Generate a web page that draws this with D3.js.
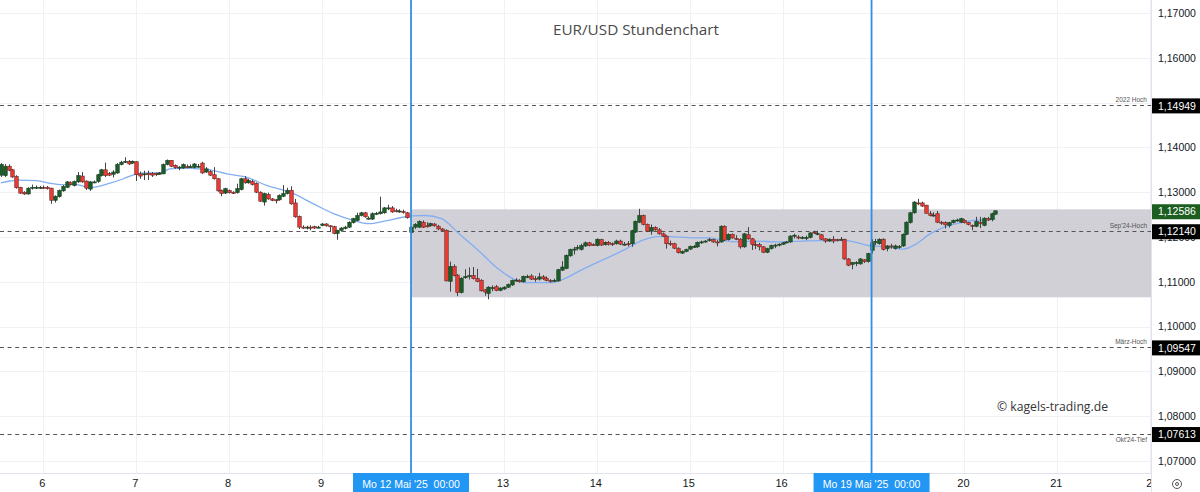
<!DOCTYPE html>
<html>
<head>
<meta charset="utf-8">
<script src="https://cdn.jsdelivr.net/npm/d3@7"></script>
<style>
  html, body { margin: 0; padding: 0; background: #fff; overflow: hidden; }
  text { font-family: "Liberation Sans", Arial, sans-serif; }
</style>
</head>
<body>
<div id="vis"></div>
<script>
// hourly candles EUR/USD
const opens = [
  1.1338,1.1337,1.1358,1.1350,1.1335,1.1311,1.1300,1.1296,1.1309,1.1310,
  1.1310,1.1311,1.1311,1.1309,1.1282,1.1290,1.1303,1.1311,1.1321,1.1315,
  1.1323,1.1336,1.1325,1.1307,1.1322,1.1324,1.1337,1.1350,1.1342,1.1340,
  1.1343,1.1362,1.1368,1.1369,1.1365,1.1368,1.1341,1.1340,1.1342,1.1342,
  1.1342,1.1340,1.1341,1.1362,1.1371,1.1360,1.1356,1.1354,1.1357,1.1356,
  1.1355,1.1357,1.1365,1.1345,1.1346,1.1339,1.1330,1.1304,1.1298,1.1304,
  1.1300,1.1299,1.1306,1.1330,1.1321,1.1324,1.1320,1.1300,1.1278,1.1295,
  1.1285,1.1283,1.1283,1.1291,1.1297,1.1304,1.1276,1.1246,1.1222,1.1221,
  1.1222,1.1223,1.1222,1.1226,1.1229,1.1225,1.1223,1.1208,1.1215,1.1219,
  1.1222,1.1232,1.1237,1.1248,1.1254,1.1241,1.1240,1.1252,1.1252,1.1254,
  1.1265,1.1265,1.1259,1.1258,1.1257,1.1254,1.1210,1.1222,1.1222,1.1233,
  1.1225,1.1225,1.1229,1.1224,1.1218,1.1215,1.1101,1.1134,1.1115,1.1076,
  1.1109,1.1112,1.1114,1.1107,1.1103,1.1082,1.1074,1.1087,1.1089,1.1081,
  1.1084,1.1088,1.1093,1.1103,1.1103,1.1100,1.1112,1.1113,1.1107,1.1106,
  1.1111,1.1108,1.1103,1.1103,1.1102,1.1126,1.1130,1.1158,1.1172,1.1176,
  1.1172,1.1180,1.1187,1.1183,1.1181,1.1194,1.1183,1.1188,1.1185,1.1185,
  1.1191,1.1184,1.1185,1.1185,1.1211,1.1233,1.1248,1.1228,1.1213,1.1221,
  1.1216,1.1207,1.1202,1.1186,1.1185,1.1175,1.1164,1.1168,1.1173,1.1178,
  1.1178,1.1188,1.1190,1.1193,1.1194,1.1189,1.1189,1.1224,1.1194,1.1206,
  1.1197,1.1195,1.1178,1.1205,1.1196,1.1183,1.1183,1.1178,1.1166,1.1174,
  1.1181,1.1183,1.1184,1.1188,1.1189,1.1203,1.1200,1.1199,1.1199,1.1199,
  1.1211,1.1208,1.1205,1.1196,1.1191,1.1195,1.1194,1.1195,1.1195,1.1151,
  1.1139,1.1143,1.1140,1.1149,1.1145,1.1170,1.1189,1.1185,1.1195,1.1174,
  1.1180,1.1174,1.1178,1.1180,1.1206,1.1232,1.1254,1.1276,1.1276,1.1271,
  1.1252,1.1249,1.1252,1.1233,1.1232,1.1226,1.1232,1.1237,1.1233,1.1237,
  1.1232,1.1226,1.1224,1.1233,1.1226,1.1241,1.1239,1.1251
];
const highs = [
  1.1365,1.1363,1.1362,1.1352,1.1338,1.1312,1.1302,1.1311,1.1317,1.1315,
  1.1314,1.1315,1.1314,1.1310,1.1293,1.1306,1.1316,1.1325,1.1324,1.1326,
  1.1345,1.1345,1.1326,1.1325,1.1326,1.1341,1.1352,1.1366,1.1345,1.1349,
  1.1365,1.1370,1.1378,1.1372,1.1371,1.1369,1.1346,1.1348,1.1348,1.1345,
  1.1344,1.1345,1.1364,1.1373,1.1372,1.1362,1.1358,1.1364,1.1362,1.1362,
  1.1365,1.1363,1.1368,1.1356,1.1350,1.1356,1.1332,1.1306,1.1310,1.1306,
  1.1302,1.1319,1.1332,1.1336,1.1330,1.1328,1.1322,1.1302,1.1299,1.1299,
  1.1287,1.1285,1.1295,1.1316,1.1310,1.1313,1.1285,1.1248,1.1226,1.1225,
  1.1226,1.1225,1.1225,1.1231,1.1231,1.1226,1.1225,1.1216,1.1222,1.1225,
  1.1235,1.1243,1.1254,1.1256,1.1256,1.1246,1.1255,1.1256,1.1290,1.1267,
  1.1272,1.1269,1.1263,1.1262,1.1261,1.1256,1.1225,1.1231,1.1237,1.1237,
  1.1233,1.1232,1.1231,1.1227,1.1220,1.1217,1.1145,1.1139,1.1117,1.1110,
  1.1128,1.1132,1.1133,1.1129,1.1106,1.1084,1.1090,1.1092,1.1093,1.1088,
  1.1090,1.1096,1.1105,1.1108,1.1106,1.1114,1.1116,1.1117,1.1113,1.1120,
  1.1115,1.1112,1.1106,1.1107,1.1129,1.1146,1.1161,1.1174,1.1178,1.1182,
  1.1185,1.1190,1.1189,1.1186,1.1197,1.1196,1.1190,1.1191,1.1188,1.1194,
  1.1194,1.1189,1.1191,1.1216,1.1237,1.1263,1.1250,1.1230,1.1228,1.1224,
  1.1220,1.1210,1.1204,1.1192,1.1187,1.1177,1.1170,1.1174,1.1181,1.1182,
  1.1190,1.1192,1.1193,1.1198,1.1196,1.1193,1.1226,1.1226,1.1208,1.1208,
  1.1204,1.1197,1.1209,1.1222,1.1198,1.1192,1.1187,1.1180,1.1176,1.1183,
  1.1185,1.1186,1.1189,1.1191,1.1204,1.1207,1.1204,1.1202,1.1203,1.1211,
  1.1214,1.1214,1.1207,1.1197,1.1197,1.1202,1.1196,1.1200,1.1196,1.1153,
  1.1144,1.1146,1.1153,1.1151,1.1165,1.1195,1.1196,1.1197,1.1197,1.1182,
  1.1185,1.1183,1.1182,1.1208,1.1235,1.1256,1.1280,1.1285,1.1279,1.1272,
  1.1258,1.1255,1.1258,1.1236,1.1235,1.1234,1.1239,1.1241,1.1243,1.1240,
  1.1234,1.1228,1.1245,1.1245,1.1244,1.1245,1.1254,1.1258
];
const lows = [
  1.1334,1.1334,1.1347,1.1332,1.1308,1.1296,1.1294,1.1295,1.1306,1.1307,
  1.1307,1.1307,1.1306,1.1274,1.1277,1.1288,1.1301,1.1309,1.1315,1.1313,
  1.1321,1.1321,1.1305,1.1303,1.1320,1.1321,1.1335,1.1334,1.1336,1.1333,
  1.1341,1.1360,1.1365,1.1361,1.1363,1.1325,1.1330,1.1327,1.1327,1.1334,
  1.1336,1.1339,1.1340,1.1360,1.1356,1.1352,1.1349,1.1352,1.1353,1.1354,
  1.1353,1.1355,1.1341,1.1343,1.1336,1.1328,1.1301,1.1291,1.1296,1.1297,
  1.1296,1.1297,1.1304,1.1319,1.1319,1.1315,1.1298,1.1278,1.1270,1.1283,
  1.1280,1.1275,1.1281,1.1289,1.1295,1.1272,1.1243,1.1218,1.1218,1.1217,
  1.1215,1.1218,1.1219,1.1224,1.1223,1.1211,1.1206,1.1194,1.1212,1.1217,
  1.1220,1.1230,1.1235,1.1246,1.1243,1.1239,1.1238,1.1249,1.1250,1.1252,
  1.1260,1.1254,1.1255,1.1254,1.1252,1.1241,1.1207,1.1218,1.1220,1.1220,
  1.1221,1.1223,1.1223,1.1215,1.1213,1.1101,1.1078,1.1112,1.1068,1.1074,
  1.1107,1.1105,1.1105,1.1099,1.1078,1.1069,1.1061,1.1079,1.1079,1.1079,
  1.1082,1.1086,1.1091,1.1100,1.1098,1.1098,1.1108,1.1104,1.1100,1.1103,
  1.1104,1.1101,1.1098,1.1100,1.1100,1.1124,1.1128,1.1156,1.1161,1.1170,
  1.1170,1.1178,1.1179,1.1180,1.1179,1.1180,1.1181,1.1181,1.1180,1.1183,
  1.1182,1.1181,1.1179,1.1178,1.1209,1.1231,1.1226,1.1211,1.1205,1.1214,
  1.1205,1.1200,1.1174,1.1180,1.1173,1.1163,1.1162,1.1166,1.1171,1.1176,
  1.1176,1.1185,1.1187,1.1190,1.1187,1.1179,1.1187,1.1191,1.1192,1.1196,
  1.1193,1.1174,1.1176,1.1194,1.1171,1.1173,1.1170,1.1164,1.1164,1.1172,
  1.1175,1.1179,1.1182,1.1186,1.1187,1.1197,1.1195,1.1195,1.1193,1.1197,
  1.1207,1.1204,1.1193,1.1187,1.1189,1.1186,1.1190,1.1192,1.1149,1.1135,
  1.1128,1.1135,1.1138,1.1142,1.1143,1.1163,1.1182,1.1183,1.1170,1.1168,
  1.1174,1.1172,1.1174,1.1178,1.1204,1.1230,1.1252,1.1271,1.1267,1.1252,
  1.1246,1.1245,1.1231,1.1227,1.1219,1.1221,1.1230,1.1234,1.1231,1.1230,
  1.1226,1.1215,1.1222,1.1220,1.1224,1.1236,1.1235,1.1249
];
const closes = [
  1.1362,1.1358,1.1349,1.1334,1.1310,1.1298,1.1296,1.1309,1.1311,1.1311,
  1.1311,1.1310,1.1308,1.1282,1.1291,1.1304,1.1313,1.1323,1.1317,1.1324,
  1.1337,1.1323,1.1309,1.1323,1.1323,1.1339,1.1350,1.1337,1.1338,1.1345,
  1.1362,1.1367,1.1369,1.1363,1.1369,1.1339,1.1336,1.1341,1.1339,1.1338,
  1.1339,1.1343,1.1362,1.1371,1.1358,1.1355,1.1356,1.1362,1.1356,1.1357,
  1.1363,1.1358,1.1343,1.1352,1.1338,1.1330,1.1303,1.1297,1.1308,1.1299,
  1.1297,1.1308,1.1330,1.1321,1.1326,1.1317,1.1300,1.1280,1.1297,1.1285,
  1.1282,1.1281,1.1293,1.1297,1.1304,1.1274,1.1245,1.1222,1.1221,1.1222,
  1.1221,1.1220,1.1222,1.1229,1.1225,1.1224,1.1208,1.1215,1.1220,1.1222,
  1.1233,1.1241,1.1248,1.1254,1.1245,1.1242,1.1252,1.1253,1.1256,1.1265,
  1.1265,1.1256,1.1258,1.1258,1.1256,1.1243,1.1222,1.1228,1.1235,1.1222,
  1.1224,1.1230,1.1225,1.1218,1.1215,1.1102,1.1134,1.1114,1.1076,1.1108,
  1.1112,1.1114,1.1107,1.1101,1.1080,1.1077,1.1088,1.1087,1.1081,1.1086,
  1.1088,1.1094,1.1103,1.1104,1.1100,1.1112,1.1112,1.1106,1.1106,1.1111,
  1.1107,1.1103,1.1102,1.1103,1.1127,1.1133,1.1159,1.1172,1.1173,1.1177,
  1.1181,1.1187,1.1181,1.1182,1.1195,1.1182,1.1188,1.1184,1.1184,1.1191,
  1.1184,1.1184,1.1183,1.1214,1.1235,1.1248,1.1228,1.1213,1.1221,1.1216,
  1.1207,1.1202,1.1185,1.1185,1.1175,1.1165,1.1168,1.1172,1.1179,1.1179,
  1.1188,1.1189,1.1191,1.1194,1.1189,1.1188,1.1224,1.1193,1.1206,1.1198,
  1.1196,1.1178,1.1207,1.1196,1.1183,1.1182,1.1178,1.1166,1.1174,1.1181,
  1.1182,1.1184,1.1187,1.1189,1.1202,1.1204,1.1199,1.1199,1.1199,1.1209,
  1.1209,1.1208,1.1195,1.1191,1.1195,1.1191,1.1193,1.1195,1.1151,1.1137,
  1.1143,1.1143,1.1151,1.1145,1.1163,1.1187,1.1190,1.1195,1.1172,1.1180,
  1.1179,1.1180,1.1179,1.1206,1.1233,1.1254,1.1278,1.1275,1.1269,1.1253,
  1.1248,1.1249,1.1233,1.1232,1.1227,1.1232,1.1237,1.1238,1.1241,1.1232,
  1.1228,1.1225,1.1235,1.1230,1.1242,1.1238,1.1252,1.12586
];

// moving average, sampled where it could be read
const maIndex = [0,2.4,4.5,9.3,12.7,16,19.6,23,28.2,31.7,34.7,37.7,41.1,43.7,48,51.5,53.2,58.4,64,68.7,74.8,80.8,86,91.1,95,98.9,103.2,106.1,109.6,113.9,118.2,123.4,128.5,132.8,136.3,142.3,145.7,149.7,161.7,165.6,169.9,172.9,179,183.3,186.7,191,194.4,201.3,207.3,211.6,218.5,224.1,228.9,233.2,236.6,240.1,243.5,247,251.3,255.6,257];
const maPrice = [1.1321,1.1325,1.1327,1.1326,1.1320,1.1317,1.1317,1.1310,1.1320,1.1330,1.1340,1.1343,1.1343,1.1352,1.1354,1.1352,1.1351,1.1341,1.1332,1.1315,1.1300,1.1274,1.1252,1.1237,1.1230,1.1235,1.1243,1.1247,1.1248,1.1241,1.1209,1.1170,1.1129,1.1105,1.1098,1.1098,1.1107,1.1125,1.1174,1.1192,1.1201,1.1201,1.1198,1.1198,1.1192,1.1189,1.1191,1.1189,1.1191,1.1192,1.1192,1.1181,1.1178,1.1173,1.1185,1.1207,1.1221,1.1230,1.1237,1.1239,1.1241];

const priceTicks = [1.07,1.08,1.09,1.10,1.11,1.12,1.13,1.14,1.15,1.16,1.17];
const priceLabels = [1.07,1.08,1.09,1.10,1.11,1.12,1.13,1.14,1.16,1.17]; // 1,15000 sits hidden behind the 2022 box
const dayTickIndex = [11,35,59,83,130,154,178,202,249,273,297];
const dayTickLabels = ['6','7','8','9','13','14','15','16','20','21','2'];

const levelValues = [1.14949,1.1214,1.09547,1.07613];
const levelNames = ['2022 Hoch',"Sep'24-Hoch",'März-Hoch',"Okt'24-Tief"];
const zoneTop = 1.12618, zoneBottom = 1.10654;

const weekStartIndex = [106,225];
const weekStartLabels = ["Mo 12 Mai '25  00:00","Mo 19 Mai '25  00:00"];

const width = 1200, height = 492;
const plotRight = 1151, plotBottom = 473;

const svg = d3.select('#vis').append('svg')
  .attr('width', width)
  .attr('height', height)
  .style('display', 'block');

// define scales
const xScale = d3.scaleLinear().domain([0,297]).range([0.8,1150.2]);
const yScale = d3.scaleLinear().domain([1.07,1.17]).range([461,13]);

svg.append('clipPath').attr('id','plot').append('rect')
  .attr('width', plotRight).attr('height', plotBottom);
svg.append('clipPath').attr('id','timeAxis').append('rect')
  .attr('width', plotRight).attr('height', height);

const plot = svg.append('g').attr('clip-path','url(#plot)');

// grid
plot.selectAll('line.hgrid').data(priceTicks).enter().append('line')
  .attr('class','hgrid')
  .attr('x1',0).attr('x2',plotRight)
  .attr('y1',d => Math.round(yScale(d))+.5).attr('y2',d => Math.round(yScale(d))+.5)
  .attr('stroke','#eff1f5');
plot.selectAll('line.vgrid').data(dayTickIndex).enter().append('line')
  .attr('class','vgrid')
  .attr('y1',0).attr('y2',plotBottom)
  .attr('x1',d => Math.round(xScale(d))+.5).attr('x2',d => Math.round(xScale(d))+.5)
  .attr('stroke','#eff1f5');

// grey range box
plot.append('rect')
  .attr('x',xScale(weekStartIndex[0]))
  .attr('y',yScale(zoneTop))
  .attr('width',plotRight-xScale(weekStartIndex[0]))
  .attr('height',yScale(zoneBottom)-yScale(zoneTop))
  .attr('fill','#d1d0d6');

// dashed levels
plot.selectAll('line.level').data(levelValues).enter().append('line')
  .attr('class','level')
  .attr('x1',0).attr('x2',plotRight)
  .attr('y1',d => Math.round(yScale(d))+.5).attr('y2',d => Math.round(yScale(d))+.5)
  .attr('stroke','#555')
  .attr('stroke-dasharray','4 3.6');

// moving average
const maLine = d3.line()
  .x((d,i) => xScale(maIndex[i]))
  .y(d => yScale(d))
  .curve(d3.curveMonotoneX);

plot.append('path')
  .attr('d',maLine(maPrice))
  .attr('fill','none')
  .attr('stroke','#82aef2')
  .attr('stroke-width',1.3);

// candles
const candles = plot.selectAll('g.candle').data(closes).enter().append('g').attr('class','candle');

candles.append('line')
  .attr('x1',(d,i) => Math.round(xScale(i))+.5)
  .attr('x2',(d,i) => Math.round(xScale(i))+.5)
  .attr('y1',(d,i) => yScale(highs[i]))
  .attr('y2',(d,i) => yScale(lows[i]))
  .attr('stroke','#444');

candles.append('rect')
  .attr('x',(d,i) => Math.round(xScale(i))-1.25)
  .attr('width',3.5)
  .attr('y',(d,i) => yScale(Math.max(opens[i],d)))
  .attr('height',(d,i) => Math.max(1,Math.abs(yScale(opens[i])-yScale(d))))
  .attr('fill',(d,i) => d >= opens[i] ? '#1b5e2a' : '#ee3a32')
  .attr('stroke',(d,i) => d >= opens[i] ? '#1d3d22' : '#5a2a28')
  .attr('stroke-width',.6);

// week start lines
plot.selectAll('line.week').data(weekStartIndex).enter().append('line')
  .attr('class','week')
  .attr('x1',d => xScale(d)).attr('x2',d => xScale(d))
  .attr('y1',0).attr('y2',plotBottom)
  .attr('stroke','#2f8fe6')
  .attr('stroke-width',1.8);

// texts in the plot
plot.selectAll('text.levelName').data(levelValues).enter().append('text')
  .attr('class','levelName')
  .attr('x',plotRight-4)
  .attr('y',(d,i) => yScale(d) + (i == 3 ? 8 : -2.5))
  .attr('text-anchor','end')
  .attr('font-size',6.5)
  .attr('fill','#555')
  .text((d,i) => levelNames[i]);

svg.append('text')
  .attr('x',636).attr('y',35)
  .attr('text-anchor','middle')
  .style('font-family','"Open Sans"')
  .attr('font-size',15.3)
  .attr('fill','#4a4a4a')
  .text('EUR/USD Stundenchart');

svg.append('text')
  .attr('x',997).attr('y',411)
  .style('font-family','"Open Sans"')
  .attr('font-size',12.2)
  .attr('fill','#333')
  .text('© kagels-trading.de');

// axes
const xAxis = d3.axisBottom(xScale)
  .tickValues(dayTickIndex)
  .tickSize(0)
  .tickPadding(6)
  .tickFormat((d,i) => dayTickLabels[i]);

const xAxisG = svg.append('g')
  .attr('clip-path','url(#timeAxis)')
  .append('g')
  .attr('transform','translate(-1.5,' + plotBottom + ')')
  .call(xAxis);
xAxisG.select('.domain').remove();
xAxisG.selectAll('text').attr('font-size',11).attr('fill','#131722');

const yAxis = d3.axisRight(yScale)
  .tickValues(priceLabels)
  .tickSize(0)
  .tickPadding(7)
  .tickFormat(d => d3.format('.5f')(d).replace('.',','));

const yAxisG = svg.append('g')
  .attr('transform','translate(' + plotRight + ',0)')
  .call(yAxis);
yAxisG.select('.domain').remove();
yAxisG.selectAll('text').attr('font-size',10.5).attr('fill','#131722');

svg.append('line')
  .attr('x1',plotRight+.5).attr('x2',plotRight+.5)
  .attr('y1',0).attr('y2',height)
  .attr('stroke','#e0e3eb');
svg.append('line')
  .attr('x1',0).attr('x2',plotRight)
  .attr('y1',plotBottom+.5).attr('y2',plotBottom+.5)
  .attr('stroke','#e0e3eb');

// price labels
const lastPrice = closes[closes.length-1];
const boxPrices = levelValues.concat([lastPrice]);
const boxes = svg.selectAll('g.box').data(boxPrices).enter().append('g').attr('class','box');
boxes.append('rect')
  .attr('x',plotRight+1).attr('width',width-plotRight-1)
  .attr('y',d => yScale(d)-6.5).attr('height',15)
  .attr('fill',d => d === lastPrice ? '#1b5e20' : '#000');
boxes.append('text')
  .attr('x',plotRight+7)
  .attr('y',d => yScale(d)+4.7)
  .attr('font-size',10.5)
  .attr('fill','#fff')
  .text(d => d3.format('.5f')(d).replace('.',','));

// date labels
const dateBoxes = svg.selectAll('g.dateBox').data(weekStartIndex).enter().append('g').attr('class','dateBox');
dateBoxes.append('rect')
  .attr('x',d => xScale(d)-58).attr('width',116)
  .attr('y',plotBottom).attr('height',height-plotBottom)
  .attr('fill','#2196f3');
dateBoxes.append('text')
  .attr('x',d => xScale(d))
  .attr('y',plotBottom+14.5)
  .attr('text-anchor','middle')
  .attr('font-size',10.5)
  .attr('fill','#fff')
  .style('white-space','pre')
  .text((d,i) => weekStartLabels[i]);

// settings icon
svg.append('circle').attr('cx',1177).attr('cy',484).attr('r',4.5)
  .attr('fill','none').attr('stroke','#555');
svg.append('circle').attr('cx',1177).attr('cy',484).attr('r',1.5)
  .attr('fill','none').attr('stroke','#555');
</script>
</body>
</html>
